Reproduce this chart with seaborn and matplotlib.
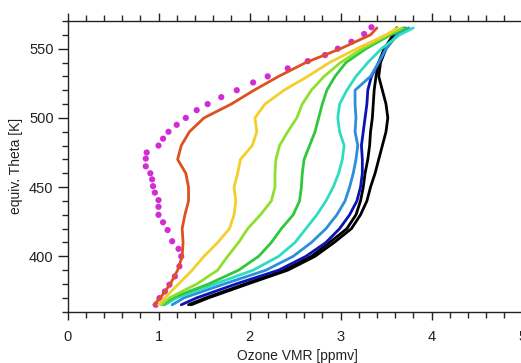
import numpy as np
import pandas as pd
import matplotlib
matplotlib.use("Agg")
import matplotlib.pyplot as plt
from matplotlib.ticker import MultipleLocator
import seaborn as sns

# ---- data ----
theta = [365, 370, 380, 390, 400, 410, 420, 430, 440, 450, 460,
         470, 480, 490, 500, 510, 520, 530, 540, 550, 560, 565]

orange = [0.95, 1.02, 1.13, 1.21, 1.26, 1.27, 1.26, 1.29, 1.33, 1.33, 1.30,
          1.21, 1.25, 1.34, 1.50, 1.80, 2.05, 2.32, 2.62, 3.00, 3.33, 3.40]
yellow = [1.00, 1.07, 1.22, 1.37, 1.50, 1.65, 1.78, 1.83, 1.85, 1.83, 1.87,
          1.90, 2.03, 2.08, 2.06, 2.17, 2.38, 2.64, 2.88, 3.18, 3.50, 3.63]
yellowgreen = [1.03, 1.12, 1.42, 1.65, 1.76, 1.88, 1.98, 2.12, 2.24, 2.28, 2.28,
               2.29, 2.33, 2.42, 2.52, 2.58, 2.68, 2.82, 3.00, 3.24, 3.52, 3.68]
green = [1.05, 1.15, 1.55, 1.88, 2.10, 2.24, 2.35, 2.48, 2.55, 2.57, 2.58,
         2.60, 2.66, 2.72, 2.76, 2.80, 2.85, 2.94, 3.06, 3.28, 3.55, 3.72]
turquoise = [1.07, 1.20, 1.62, 2.04, 2.32, 2.50, 2.62, 2.74, 2.84, 2.92, 2.98,
             3.02, 3.04, 2.99, 2.97, 2.99, 3.07, 3.17, 3.30, 3.45, 3.65, 3.80]
lightblue = [1.15, 1.28, 1.72, 2.18, 2.48, 2.68, 2.84, 2.96, 3.05, 3.10, 3.14,
             3.17, 3.19, 3.16, 3.17, 3.16, 3.16, 3.33, 3.42, 3.50, 3.62, 3.75]
navy = [1.25, 1.42, 1.85, 2.32, 2.62, 2.84, 2.99, 3.10, 3.18, 3.22, 3.24,
        3.24, 3.23, 3.25, 3.27, 3.29, 3.30, 3.34, 3.42, 3.50, 3.62, 3.70]
black1 = [1.33, 1.52, 1.95, 2.38, 2.68, 2.88, 3.07, 3.17, 3.22, 3.25, 3.27,
          3.30, 3.32, 3.33, 3.35, 3.36, 3.37, 3.39, 3.42, 3.48, 3.58, 3.62]
black2 = [1.36, 1.55, 1.98, 2.42, 2.72, 2.93, 3.12, 3.22, 3.29, 3.33, 3.38,
          3.42, 3.46, 3.50, 3.52, 3.50, 3.46, 3.42, 3.44, 3.50, 3.58, 3.62]

dots_theta = [365, 369.8, 374.6, 379.5, 385.5, 392.8, 400, 405.4, 410.9, 419,
              424.6, 430, 435.8, 440.6, 446, 450.7, 455.6, 460, 465, 470.6,
              475, 480, 485, 490, 495, 500, 505.6, 510, 515, 520, 525.6, 530,
              535.8, 541, 545.4, 550, 555, 560.6, 565.5]
dots_ozone = [0.97, 1.01, 1.07, 1.12, 1.18, 1.23, 1.25, 1.22, 1.15, 1.10,
              1.05, 1.00, 1.00, 1.00, 0.96, 0.94, 0.93, 0.91, 0.86, 0.86,
              0.87, 1.00, 1.05, 1.11, 1.20, 1.30, 1.42, 1.54, 1.69, 1.86,
              2.04, 2.20, 2.42, 2.64, 2.83, 2.97, 3.12, 3.26, 3.34]

series = {
    "black2": black2, "black1": black1, "navy": navy, "lightblue": lightblue,
    "turquoise": turquoise, "green": green, "yellowgreen": yellowgreen,
    "yellow": yellow, "orange": orange,
}
palette = {
    "black2": "#000000", "black1": "#000000", "navy": "#0a14b4",
    "lightblue": "#2b8fdc", "turquoise": "#2fdcc0", "green": "#2fc83c",
    "yellowgreen": "#8ee02c", "yellow": "#f2cf2a", "orange": "#de5020",
}

rows = []
for name, vals in series.items():
    for t, v in zip(theta, vals):
        rows.append({"run": name, "theta": t, "ozone": v})
df = pd.DataFrame(rows)
dots = pd.DataFrame({"theta": dots_theta, "ozone": dots_ozone})

# ---- figure ----
sns.set_style("ticks")
plt.rcParams["font.family"] = ["Liberation Sans", "DejaVu Sans"]

fig = plt.figure(figsize=(5.21, 3.63), dpi=100)
ax = fig.add_axes([67.5 / 521, 1 - 311.7 / 363, 455 / 521, (311.7 - 21) / 363])

sns.lineplot(data=df, x="ozone", y="theta", hue="run", palette=palette,
             estimator=None, sort=False, orient="y", linewidth=2.0,
             legend=False, ax=ax)
sns.scatterplot(data=dots, x="ozone", y="theta", color="#d42cd4", s=20,
                edgecolor="none", legend=False, ax=ax, zorder=1)

ax.set_xlim(0, 5)
ax.set_ylim(360, 570)
ax.xaxis.set_major_locator(MultipleLocator(1))
ax.xaxis.set_minor_locator(MultipleLocator(0.2))
ax.yaxis.set_major_locator(MultipleLocator(50))
ax.yaxis.set_minor_locator(MultipleLocator(10))
ax.set_xticks([0, 1, 2, 3, 4, 5])
ax.set_xticklabels(["0", "1", "2", "3", "4", "5"])

ax.tick_params(axis="x", which="major", direction="out", length=6, width=1,
               top=True, bottom=True, labelsize=10.5, pad=7, colors="#222222")
ax.tick_params(axis="x", which="minor", direction="out", length=4.3, width=1,
               top=True, bottom=True)
ax.tick_params(axis="y", which="major", direction="out", length=7, width=1,
               left=True, right=False, labelsize=10.5, pad=3, colors="#222222")
ax.tick_params(axis="y", which="minor", direction="out", length=4.5, width=1,
               left=True, right=False)

for s in ax.spines.values():
    s.set_color("#222222")
    s.set_linewidth(1.0)
ax.spines["top"].set_visible(True)
ax.spines["right"].set_visible(True)

ax.set_xlabel("Ozone VMR [ppmv]", fontsize=10, color="#222222")
ax.set_ylabel("equiv. Theta [K]", fontsize=10, color="#222222")
ax.xaxis.set_label_coords(0.505, -0.13)
ax.yaxis.set_label_coords(-0.098, 0.5)

fig.savefig("out.png", dpi=100)
